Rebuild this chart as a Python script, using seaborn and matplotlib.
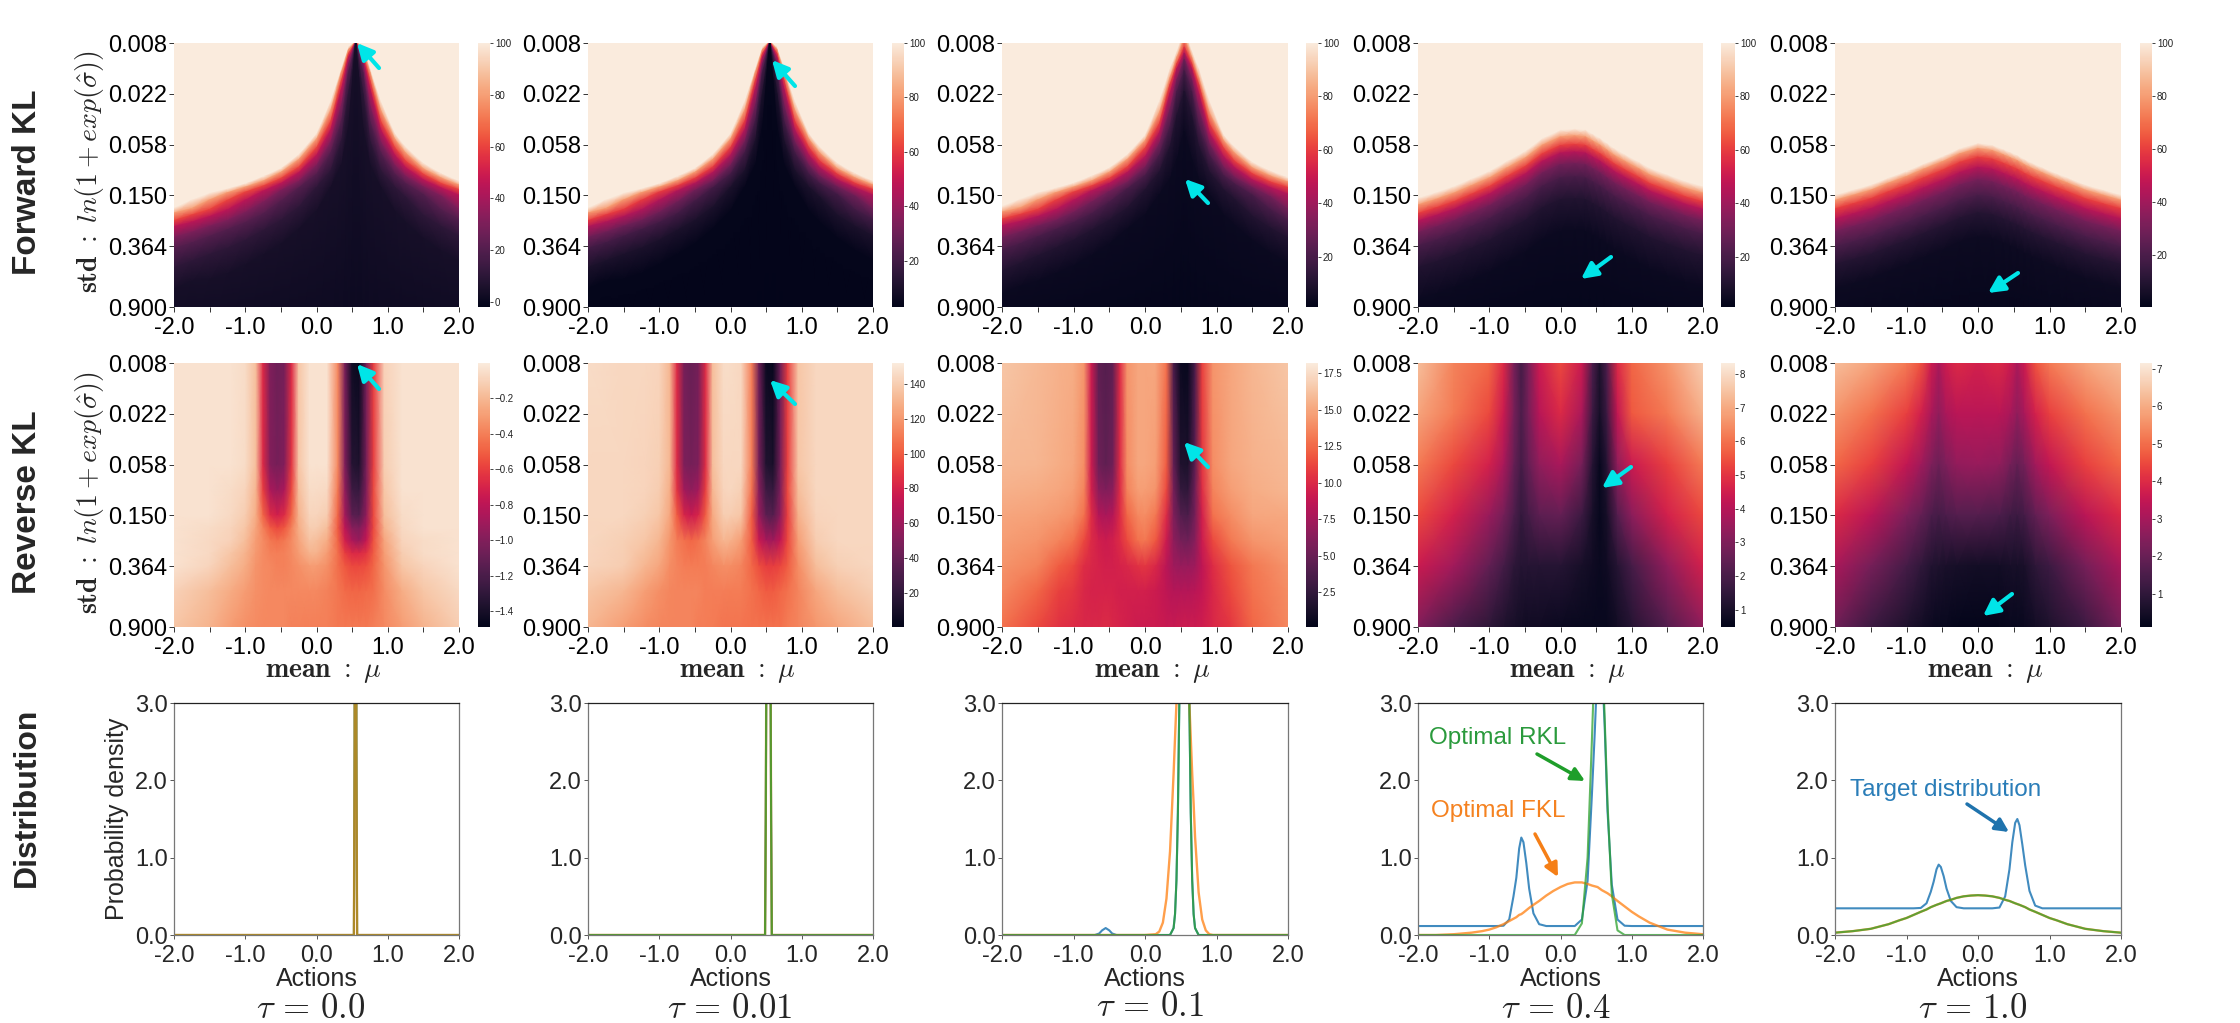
import numpy as np
import matplotlib
matplotlib.use('Agg')
import matplotlib.pyplot as plt
import seaborn as sns

sns.set_style('white')
plt.rcParams['font.family'] = ['Liberation Sans', 'DejaVu Sans']
plt.rcParams['mathtext.fontset'] = 'cm'

W, H = 2240, 1023

# tick labels
std_labels = ['0.008', '0.022', '0.058', '0.150', '0.364', '0.900']
std_pos = [0, 1, 2, 3, 4, 5.2]
taus = ['0.0', '0.01', '0.1', '0.4', '1.0']

# grids the heatmap values were read on (mean, and row position in tick units)
FKL_MU = [-2, -1.75, -1.5, -1.25, -1, -0.75, -0.5, -0.25, 0, 0.2, 0.35, 0.45, 0.55, 0.65, 0.75, 0.9, 1.1, 1.25, 1.5, 1.75, 2]
RKL_MU = [-2, -1.5, -1.2, -1, -0.85, -0.75, -0.65, -0.55, -0.45, -0.35, -0.25, -0.1, 0, 0.15, 0.3, 0.4, 0.5, 0.6, 0.7, 0.8, 0.95, 1.2, 1.5, 2]
RKL_ROWS_FINE = [0, 2, 2.5, 3, 3.25, 3.5, 3.75, 4, 4.5, 5.2]
RKL_ROWS_MID = [0, 2, 2.5, 3, 3.5, 4, 4.5, 5.2]
RKL_MU_COARSE = [-2, -1.5, -1, -0.8, -0.65, -0.55, -0.45, -0.3, 0, 0.3, 0.45, 0.55, 0.65, 0.8, 1, 1.5, 2]
RKL_ROWS_COARSE = [0, 1, 2, 3, 4, 5.2]

# Forward KL: for each mean in FKL_MU, the row where the value falls to each level
FKL_LEVELS = [100, 100, 80, 60, 45, 30, 20, 10, 4, 1]
fkl_tau0 = [
    [-1, -1, -1, -1, -1, -1, -1, -1, -1, -1, -1, -1, -1, -1, -1, -1, -1, -1, -1, -1, -1],
    [3.25, 3.09, 2.96, 2.87, 2.77, 2.63, 2.47, 2.2, 1.79, 1.15, .5, .08, -.03, .08, .5, 1.15, 1.79, 2.05, 2.37, 2.57, 2.72],
    [3.35, 3.26, 3.09, 2.95, 2.84, 2.72, 2.55, 2.3, 1.9, 1.33, .58, .13, -.03, .13, .58, 1.33, 1.9, 2.17, 2.48, 2.66, 2.8],
    [3.5, 3.39, 3.28, 3.1, 2.94, 2.82, 2.67, 2.45, 2.07, 1.55, .75, .21, -.02, .21, .75, 1.55, 2.07, 2.33, 2.59, 2.77, 2.89],
    [3.62, 3.53, 3.42, 3.29, 3.1, 2.92, 2.77, 2.56, 2.22, 1.72, .92, .29, -.02, .29, .92, 1.72, 2.22, 2.46, 2.7, 2.86, 3.0],
    [3.83, 3.73, 3.61, 3.5, 3.34, 3.14, 2.91, 2.73, 2.42, 1.96, 1.25, .42, -.01, .42, 1.25, 1.96, 2.42, 2.63, 2.84, 3.02, 3.28],
    [4.05, 3.94, 3.81, 3.68, 3.54, 3.37, 3.12, 2.86, 2.59, 2.17, 1.55, .58, -.01, .58, 1.55, 2.17, 2.59, 2.77, 2.99, 3.29, 3.48],
    [4.43, 4.3, 4.17, 4.05, 3.89, 3.7, 3.5, 3.24, 2.85, 2.52, 1.94, 1, -.01, 1, 1.94, 2.52, 2.85, 3.04, 3.4, 3.62, 3.81],
    [4.85, 4.7, 4.66, 4.55, 4.38, 4.18, 3.97, 3.68, 3.32, 2.85, 2.42, 1.68, 0, 1.68, 2.42, 2.85, 3.32, 3.55, 3.86, 4.1, 4.3],
    [6, 6, 6, 6, 6, 6, 6, 6, 6, 6, 6, 6, 6, 6, 6, 6, 6, 6, 6, 6, 6],
]
# no visible difference from tau = 0 apart from the colorbar floor
fkl_tau001 = fkl_tau0
fkl_tau01 = [
    [-1, -1, -1, -1, -1, -1, -1, -1, -1, -1, -1, -1, -1, -1, -1, -1, -1, -1, -1, -1, -1],
    [3.22, 3.08, 2.95, 2.86, 2.76, 2.62, 2.46, 2.2, 1.82, 1.15, .5, .15, -.3, .15, .5, 1.15, 1.82, 2.05, 2.35, 2.52, 2.65],
    [3.33, 3.25, 3.09, 2.95, 2.84, 2.72, 2.55, 2.3, 1.93, 1.38, .68, .27, -.1, .27, .68, 1.38, 1.93, 2.17, 2.46, 2.62, 2.74],
    [3.47, 3.38, 3.28, 3.1, 2.94, 2.82, 2.67, 2.45, 2.08, 1.6, .82, .4, .08, .4, .82, 1.6, 2.08, 2.33, 2.58, 2.74, 2.85],
    [3.6, 3.52, 3.42, 3.29, 3.1, 2.92, 2.77, 2.56, 2.25, 1.78, 1, .5, .2, .5, 1, 1.78, 2.25, 2.46, 2.7, 2.85, 2.98],
    [3.84, 3.73, 3.61, 3.5, 3.34, 3.14, 2.93, 2.75, 2.46, 2, 1.32, .72, .33, .72, 1.32, 2, 2.46, 2.65, 2.85, 3.03, 3.28],
    [4.08, 3.96, 3.82, 3.68, 3.54, 3.37, 3.14, 2.88, 2.62, 2.22, 1.65, .95, .55, .95, 1.65, 2.22, 2.62, 2.78, 3, 3.28, 3.5],
    [4.5, 4.35, 4.2, 4.05, 3.89, 3.7, 3.5, 3.26, 2.9, 2.55, 2.05, 1.42, .95, 1.42, 2.05, 2.55, 2.9, 3.08, 3.42, 3.65, 3.85],
    [4.95, 4.8, 4.7, 4.55, 4.4, 4.2, 3.97, 3.68, 3.4, 3, 2.7, 2.3, 1.75, 2.3, 2.7, 3, 3.4, 3.6, 3.9, 4.15, 4.35],
    [6, 6, 6, 6, 6, 6, 6, 6, 6, 6, 6, 6, 6, 6, 6, 6, 6, 6, 6, 6, 6],
]
fkl_tau04 = [
    [-1, -1, -1, -1, -1, -1, -1, -1, -1, -1, -1, -1, -1, -1, -1, -1, -1, -1, -1, -1, -1],
    [3.06, 2.95, 2.83, 2.68, 2.53, 2.33, 2.14, 1.88, 1.72, 1.7, 1.72, 1.8, 1.88, 1.98, 2.08, 2.2, 2.35, 2.47, 2.6, 2.73, 2.83],
    [3.19, 3.08, 2.96, 2.81, 2.66, 2.46, 2.27, 2.01, 1.85, 1.83, 1.85, 1.93, 2.01, 2.11, 2.21, 2.33, 2.48, 2.6, 2.73, 2.86, 2.96],
    [3.36, 3.25, 3.13, 2.98, 2.83, 2.63, 2.44, 2.18, 2.02, 2, 2.02, 2.1, 2.18, 2.28, 2.38, 2.5, 2.65, 2.77, 2.9, 3.03, 3.13],
    [3.51, 3.4, 3.28, 3.13, 2.98, 2.78, 2.59, 2.33, 2.17, 2.15, 2.17, 2.25, 2.33, 2.43, 2.53, 2.65, 2.8, 2.92, 3.05, 3.18, 3.28],
    [3.74, 3.63, 3.51, 3.36, 3.21, 3.01, 2.82, 2.56, 2.4, 2.38, 2.4, 2.48, 2.56, 2.66, 2.76, 2.88, 3.03, 3.15, 3.28, 3.41, 3.51],
    [4, 3.89, 3.77, 3.62, 3.47, 3.27, 3.08, 2.82, 2.66, 2.64, 2.66, 2.74, 2.82, 2.92, 3.02, 3.14, 3.29, 3.41, 3.54, 3.67, 3.77],
    [4.43, 4.32, 4.2, 4.05, 3.9, 3.7, 3.51, 3.25, 3.09, 3.07, 3.09, 3.17, 3.25, 3.35, 3.45, 3.57, 3.72, 3.84, 3.97, 4.1, 4.2],
    [5.06, 4.95, 4.83, 4.68, 4.53, 4.33, 4.14, 3.88, 3.72, 3.7, 3.72, 3.8, 3.88, 3.98, 4.08, 4.2, 4.35, 4.47, 4.6, 4.73, 4.83],
    [6, 6, 6, 6, 6, 6, 6, 6, 6, 6, 6, 6, 6, 6, 6, 6, 6, 6, 6, 6, 6],
]
fkl_tau1 = [
    [-1, -1, -1, -1, -1, -1, -1, -1, -1, -1, -1, -1, -1, -1, -1, -1, -1, -1, -1, -1, -1],
    [3, 2.9, 2.8, 2.66, 2.53, 2.38, 2.24, 2.08, 1.98, 2.02, 2.1, 2.16, 2.22, 2.3, 2.37, 2.46, 2.58, 2.66, 2.8, 2.9, 3],
    [3.1, 3, 2.9, 2.76, 2.63, 2.48, 2.34, 2.18, 2.08, 2.12, 2.2, 2.26, 2.32, 2.4, 2.47, 2.56, 2.68, 2.76, 2.9, 3, 3.1],
    [3.27, 3.17, 3.07, 2.93, 2.8, 2.65, 2.51, 2.35, 2.25, 2.29, 2.37, 2.43, 2.49, 2.57, 2.64, 2.73, 2.85, 2.93, 3.07, 3.17, 3.27],
    [3.47, 3.37, 3.27, 3.13, 3, 2.85, 2.71, 2.55, 2.45, 2.49, 2.57, 2.63, 2.69, 2.77, 2.84, 2.93, 3.05, 3.13, 3.27, 3.37, 3.47],
    [3.72, 3.62, 3.52, 3.38, 3.25, 3.1, 2.96, 2.8, 2.7, 2.74, 2.82, 2.88, 2.94, 3.02, 3.09, 3.18, 3.3, 3.38, 3.52, 3.62, 3.72],
    [4.02, 3.92, 3.82, 3.68, 3.55, 3.4, 3.26, 3.1, 3, 3.04, 3.12, 3.18, 3.24, 3.32, 3.39, 3.48, 3.6, 3.68, 3.82, 3.92, 4.02],
    [4.37, 4.27, 4.17, 4.03, 3.9, 3.75, 3.61, 3.45, 3.35, 3.39, 3.47, 3.53, 3.59, 3.67, 3.74, 3.83, 3.95, 4.03, 4.17, 4.27, 4.37],
    [4.85, 4.75, 4.65, 4.51, 4.38, 4.23, 4.09, 3.93, 3.83, 3.87, 3.95, 4.01, 4.07, 4.15, 4.22, 4.31, 4.43, 4.51, 4.65, 4.75, 4.85],
    [6, 6, 6, 6, 6, 6, 6, 6, 6, 6, 6, 6, 6, 6, 6, 6, 6, 6, 6, 6, 6],
]

# Reverse KL
rkl_tau0 = [
    [-.04, -.04, -.04, -.06, -.18, -.67, -1.01, -1.07, -1.04, -.67, -.15, -.04, -.04, -.04, -.37, -1.04, -1.43, -1.45, -1.04, -.6, -.10, -.04, -.04, -.04],
    [-.04, -.04, -.04, -.06, -.18, -.67, -1.0, -1.04, -1.0, -.63, -.15, -.04, -.04, -.04, -.37, -1.01, -1.34, -1.37, -1.04, -.6, -.12, -.04, -.04, -.04],
    [-.04, -.04, -.06, -.09, -.21, -.6, -.86, -.92, -.86, -.57, -.18, -.06, -.06, -.07, -.42, -.95, -1.25, -1.28, -1.01, -.57, -.15, -.04, -.04, -.04],
    [-.04, -.04, -.07, -.12, -.24, -.48, -.66, -.72, -.66, -.48, -.22, -.09, -.09, -.12, -.48, -.89, -1.13, -1.16, -.95, -.57, -.18, -.06, -.04, -.04],
    [-.04, -.06, -.09, -.15, -.27, -.39, -.51, -.57, -.52, -.39, -.24, -.12, -.12, -.18, -.51, -.8, -.98, -1.01, -.86, -.57, -.22, -.07, -.04, -.04],
    [-.04, -.07, -.1, -.18, -.3, -.36, -.42, -.45, -.42, -.36, -.27, -.16, -.18, -.24, -.48, -.72, -.86, -.92, -.77, -.54, -.27, -.09, -.06, -.04],
    [-.04, -.07, -.15, -.22, -.31, -.36, -.39, -.4, -.39, -.36, -.3, -.22, -.22, -.3, -.45, -.6, -.67, -.67, -.63, -.51, -.3, -.12, -.06, -.04],
    [-.04, -.09, -.18, -.24, -.33, -.36, -.37, -.39, -.39, -.37, -.34, -.3, -.3, -.34, -.45, -.52, -.57, -.57, -.55, -.48, -.33, -.15, -.09, -.04],
    [-.1, -.18, -.25, -.3, -.34, -.36, -.37, -.37, -.37, -.37, -.37, -.37, -.37, -.39, -.43, -.46, -.48, -.48, -.46, -.45, -.36, -.24, -.15, -.07],
    [-.15, -.22, -.3, -.34, -.36, -.37, -.37, -.37, -.37, -.39, -.39, -.4, -.4, -.4, -.42, -.42, -.42, -.42, -.42, -.4, -.37, -.3, -.22, -.12],
]
rkl_tau001 = [
    [146, 144, 144, 143, 131, 84, 46, 41, 46, 84, 134, 146, 146, 144, 110, 43, 5, 4, 43, 91, 137, 144, 144, 144],
    [144, 144, 143, 141, 131, 84, 49, 46, 49, 85, 134, 144, 144, 144, 110, 46, 14, 11, 46, 91, 137, 144, 144, 144],
    [144, 144, 143, 140, 128, 88, 61, 55, 61, 91, 131, 143, 144, 141, 107, 52, 25, 22, 49, 94, 134, 144, 144, 144],
    [144, 144, 141, 137, 125, 100, 82, 76, 82, 100, 126, 140, 140, 137, 100, 58, 37, 34, 54, 91, 129, 143, 144, 144],
    [144, 141, 137, 131, 119, 111, 107, 104, 107, 113, 122, 131, 129, 122, 100, 76, 64, 61, 73, 94, 122, 140, 144, 144],
    [143, 140, 131, 125, 116, 113, 111, 110, 110, 111, 114, 117, 116, 113, 104, 96, 91, 91, 94, 100, 116, 134, 141, 144],
    [137, 131, 122, 117, 114, 113, 113, 113, 113, 111, 111, 111, 110, 110, 107, 104, 100, 100, 104, 107, 113, 125, 134, 141],
    [131, 122, 116, 114, 113, 113, 113, 113, 111, 111, 110, 108, 108, 108, 107, 107, 107, 107, 107, 110, 113, 119, 125, 134],
]
rkl_tau01 = [
    [16.4, 15.8, 15.5, 15.3, 14.2, 9.2, 4.6, 4.1, 4.6, 10.1, 14.2, 15, 15, 15, 12.8, 3.7, .6, .5, 3.7, 11, 14.2, 15, 15.7, 16.4],
    [15.8, 15.7, 15.3, 15, 13.9, 9.2, 5.2, 4.6, 5.2, 10.1, 13.9, 15, 15, 14.6, 12, 4.8, 1.6, 1.4, 4.4, 10.6, 13.9, 15, 15.5, 15.8],
    [15.5, 15.3, 15, 14.6, 13.5, 9.5, 6.4, 5.9, 6.4, 10.1, 13.5, 14.6, 14.6, 14.2, 11.3, 5.5, 2.6, 2.3, 5.2, 10.2, 13.5, 14.6, 15.3, 15.7],
    [15, 14.8, 14.4, 14, 12.8, 10.2, 8.2, 7.7, 8.2, 10.2, 12.4, 13.7, 13.9, 13.1, 10.2, 5.9, 4.1, 3.7, 5.5, 9.5, 12.8, 13.9, 15, 15.1],
    [14.6, 14.2, 13.5, 12.8, 11.3, 10.1, 9.5, 9.2, 9.5, 10.2, 11.3, 12.8, 13.1, 11.9, 9.2, 6.6, 5.5, 5.2, 6.3, 9.2, 11.3, 13.1, 14.2, 14.8],
    [14.2, 13.5, 12, 11.3, 10.2, 9.9, 9.7, 9.5, 9.5, 9.7, 9.9, 10.4, 10.6, 9.9, 8.4, 7.3, 7, 7, 7.3, 8.6, 10.2, 11.7, 13.1, 14.2],
    [13.7, 12.4, 11, 10.6, 9.9, 9.7, 9.7, 9.7, 9.7, 9.5, 9.5, 9.5, 9.5, 9.2, 8.6, 8.2, 8.2, 8.2, 8.4, 8.8, 9.9, 11.3, 12.8, 13.9],
    [12.8, 11.3, 10.4, 10.1, 9.9, 9.9, 9.9, 10.1, 9.9, 9.7, 9.5, 9.2, 9.2, 9.2, 9, 9, 9.2, 9.2, 9.2, 9.3, 9.9, 10.6, 12.4, 13.7],
]
rkl_tau04 = [
    [7.38, 6.28, 5.81, 4.8, 2.84, 1.9, 2.84, 4.4, 5.34, 4.4, 2.06, 1.12, 2.06, 4.8, 5.81, 6.6, 7.69],
    [6.91, 6.13, 5.34, 4.4, 2.84, 2.06, 2.84, 4.01, 4.8, 3.78, 1.74, .96, 1.74, 4.25, 5.58, 6.13, 7.15],
    [6.13, 5.34, 4.56, 3.78, 2.53, 1.9, 2.53, 3.31, 3.78, 2.84, 1.27, .65, 1.27, 3.31, 4.4, 5.19, 6.13],
    [5.34, 4.56, 3.47, 2.84, 2.06, 1.59, 1.9, 2.37, 2.53, 1.74, .96, .65, .96, 2.21, 3.23, 4.56, 5.34],
    [4.4, 3.62, 2.45, 1.9, 1.43, 1.27, 1.27, 1.27, 1.27, .96, .8, .73, .8, 1.27, 1.9, 3.31, 4.56],
    [3.0, 2.06, 1.43, 1.12, .96, .88, .8, .8, .73, .65, .65, .65, .65, .88, 1.27, 2.21, 3.31],
]
rkl_tau1 = [
    [6.31, 5.88, 5.18, 4.62, 3.64, 3.07, 3.64, 3.99, 3.78, 3.99, 3.64, 3.07, 3.64, 4.62, 5.18, 5.88, 6.31],
    [5.6, 5.04, 4.34, 3.78, 3.07, 2.65, 3.07, 3.35, 3.35, 3.35, 3.07, 2.65, 3.07, 3.78, 4.34, 5.04, 5.6],
    [4.9, 4.34, 3.49, 2.93, 2.37, 2.09, 2.37, 2.72, 2.79, 2.65, 2.23, 1.95, 2.23, 2.93, 3.49, 4.34, 4.9],
    [3.99, 3.35, 2.37, 1.95, 1.53, 1.39, 1.53, 1.67, 1.67, 1.53, 1.31, 1.24, 1.39, 1.88, 2.37, 3.35, 3.99],
    [3.07, 2.23, 1.39, 1.03, .75, .68, .61, .54, .47, .47, .54, .54, .61, .96, 1.24, 2.23, 3.07],
    [2.09, 1.24, .68, .47, .33, .26, .26, .19, .16, .19, .26, .26, .33, .47, .68, 1.24, 2.23],
]

# Distribution panels, density curves
act_spike0 = [-2, 0, 0.525, 0.535, 0.54, 0.55, 0.555, 0.56, 0.57, 1, 2]
target_tau0 = [0, 0, 0, 2.5, 8, 20, 8, 2.5, 0, 0, 0]
act_spike001 = [-2, 0, 0.485, 0.495, 0.505, 0.53, 0.56, 0.57, 0.58, 1, 2]
target_tau001 = [0, 0, 0, 1.5, 4, 12, 4, 1.5, 0, 0, 0]

act_tau01 = [-2, -1, -0.7, -0.64, -0.6, -0.55, -0.5, -0.46, -0.4, 0, 0.15, 0.2, 0.25, 0.3, 0.35, 0.4, 0.42, 0.44, 0.46, 0.48,
             0.5, 0.52, 0.54, 0.56, 0.58, 0.6, 0.62, 0.64, 0.66, 0.68, 0.7, 0.75, 0.8, 0.85, 0.9, 0.95, 1, 2]
target_tau01 = [0, 0, 0, .02, .06, .09, .06, .02, 0, 0, 0, 0, 0, 0, 0, .09, .27, .71, 1.58, 3.0,
                4.85, 6.7, 7.84, 7.84, 6.7, 4.85, 3.0, 1.58, .71, .27, .09, 0, 0, 0, 0, 0, 0, 0]
fkl_curve_tau01 = [0, 0, 0, 0, 0, 0, 0, 0, 0, 0, .01, .045, .16, .47, 1.08, 2.09, 2.55, 3.0, 3.42, 3.8,
                   4.05, 4.2, 4.2, 4.05, 3.8, 3.42, 3.0, 2.55, 2.09, 1.7, 1.27, .55, .2, .06, .01, 0, 0, 0]
rkl_curve_tau01 = [0, 0, 0, 0, 0, 0, 0, 0, 0, 0, 0, 0, 0, 0, 0, .09, .27, .71, 1.58, 3.0,
                   4.85, 6.7, 7.84, 7.84, 6.7, 4.85, 3.0, 1.58, .71, .27, .09, 0, 0, 0, 0, 0, 0, 0]

act_wide = [-2, -1.75, -1.5, -1.25, -1.1, -1, -0.9, -0.8, -0.72, -0.66, -0.62, -0.58, -0.55, -0.52, -0.48, -0.44, -0.38, -0.3, -0.2, -0.1,
            0, 0.1, 0.2, 0.3, 0.38, 0.44, 0.48, 0.52, 0.55, 0.58, 0.62, 0.66, 0.72, 0.8, 0.9, 1, 1.1, 1.25, 1.5, 1.75, 2]
target_tau04 = [.116, .116, .116, .116, .116, .116, .116, .12, .2, .5, .74, 1.12, 1.26, 1.2, .93, .6, .28, .14, .116, .116,
                .116, .116, .116, .2, .7, 1.8, 2.6, 3.5, 3.75, 3.55, 2.7, 1.6, .65, .2, .12, .116, .116, .116, .116, .116, .116]
fkl_curve_tau04 = [0, 0, .01, .03, .05, .07, .10, .14, .18, .21, .23, .26, .27, .29, .32, .35, .39, .44, .51, .57,
                   .62, .66, .68, .68, .66, .64, .63, .62, .6, .58, .56, .54, .5, .44, .37, .30, .24, .16, .07, .03, .01]
rkl_curve_tau04 = [0, 0, 0, 0, 0, 0, 0, 0, 0, 0, 0, 0, 0, 0, 0, 0, 0, 0, 0, 0,
                   0, 0, 0, .15, 1.0, 2.5, 3.6, 4.35, 4.35, 3.9, 2.8, 1.7, .53, .06, 0, 0, 0, 0, 0, 0, 0]
target_tau1 = [.345, .345, .345, .345, .345, .345, .345, .35, .41, .56, .69, .85, .91, .88, .76, .6, .44, .36, .345, .345,
               .345, .345, .345, .355, .5, .85, 1.2, 1.45, 1.5, 1.42, 1.17, .9, .57, .38, .345, .345, .345, .345, .345, .345, .345]
gauss_tau1 = [.03, .05, .08, .14, .19, .22, .26, .30, .33, .36, .375, .39, .40, .41, .425, .44, .455, .48, .50, .51,
              .515, .51, .50, .48, .455, .44, .425, .41, .40, .39, .375, .36, .33, .30, .26, .22, .19, .14, .08, .05, .03]

# pixel layout of the columns
col_x = [(174, 459), (588, 873), (1002, 1288), (1418, 1703), (1835, 2121)]
cbar_x = [(478, 490), (892, 904), (1306, 1318), (1721, 1735), (2140, 2152)]
row_y = [(43, 307), (363, 627), (703, 935)]
tau_pos = [(311, 1009), (730, 1009), (1150, 1007), (1556, 1009), (1973, 1009)]

# panel settings: values, grid, colour range, colorbar ticks
top_panels = [
    (fkl_tau0, -2, 100, [0, 20, 40, 60, 80, 100]),
    (fkl_tau001, 3, 100, [20, 40, 60, 80, 100]),
    (fkl_tau01, 1.3, 100, [20, 40, 60, 80, 100]),
    (fkl_tau04, 1.3, 100, [20, 40, 60, 80, 100]),
    (fkl_tau1, 0.6, 100, [20, 40, 60, 80, 100]),
]
mid_panels = [
    (rkl_tau0, RKL_MU, RKL_ROWS_FINE, -1.49, 0, [-1.4, -1.2, -1.0, -0.8, -0.6, -0.4, -0.2]),
    (rkl_tau001, RKL_MU, RKL_ROWS_MID, 0.5, 152, [20, 40, 60, 80, 100, 120, 140]),
    (rkl_tau01, RKL_MU, RKL_ROWS_MID, 0.1, 18.2, [2.5, 5.0, 7.5, 10.0, 12.5, 15.0, 17.5]),
    (rkl_tau04, RKL_MU_COARSE, RKL_ROWS_COARSE, 0.49, 8.32, [1, 2, 3, 4, 5, 6, 7, 8]),
    (rkl_tau1, RKL_MU_COARSE, RKL_ROWS_COARSE, 0.12, 7.15, [1, 2, 3, 4, 5, 6, 7]),
]
# tail and tip of the cyan arrows, figure pixels from the top left
top_arrows = [((379, 68), (357, 43)), ((795, 86), (772, 60)), ((1208, 203), (1185, 179)),
              ((1611, 257), (1581, 279)), ((2018, 273), (1988, 293))]
mid_arrows = [((379, 389), (357, 364)), ((795, 404), (770, 380)), ((1208, 467), (1184, 442)),
              ((1631, 467), (1602, 488)), ((2012, 594), (1983, 616))]

BLUE, ORANGE, GREEN = '#1f77b4', '#ff7f0e', '#2ca02c'
CYAN = '#00e5e8'
TICK_SIZE = 17


def pix_axes(fig, xr, yr):
    return fig.add_axes([xr[0] / W, 1 - yr[1] / H, (xr[1] - xr[0]) / W, (yr[1] - yr[0]) / H])


def pix(p):
    return (p[0], H - p[1])


def arrow(ax, tail, tip, color, lw=3, scale=24):
    ax.annotate('', xy=pix(tip), xytext=pix(tail), xycoords='figure pixels', textcoords='figure pixels',
                annotation_clip=False, zorder=10,
                arrowprops=dict(arrowstyle='-|>', color=color, lw=lw, mutation_scale=scale, shrinkA=0, shrinkB=0))


def heat_panel(fig, xr, yr, cxr, values, grid_x, grid_y, vmin, vmax, cticks):
    ax = pix_axes(fig, xr, yr)
    cax = pix_axes(fig, cxr, yr)
    sns.heatmap(values, ax=ax, cbar_ax=cax, cmap='rocket', vmin=vmin, vmax=vmax,
                xticklabels=False, yticklabels=False, shading='gouraud')
    # put the smooth mesh on the grid the values were read on
    mesh = ax.collections[0]
    mesh._coordinates = np.dstack([grid_x, grid_y])
    ax.set_xlim(-2, 2)
    ax.set_ylim(5.2, 0)
    ax.set_xticks(np.arange(-2, 2.01, 0.5))
    ax.set_xticklabels(['-2.0', '', '-1.0', '', '0.0', '', '1.0', '', '2.0'], fontsize=TICK_SIZE)
    ax.set_yticks(std_pos)
    ax.set_yticklabels(std_labels, fontsize=TICK_SIZE, rotation=0)
    ax.tick_params(axis='x', length=3.5, width=0.7, pad=4, color='#333333', bottom=True, labelcolor='black')
    ax.tick_params(axis='y', length=3.5, width=0.7, pad=1.5, color='#333333', left=True, labelcolor='black')
    cbar = mesh.colorbar
    cbar.set_ticks(cticks)
    cbar.ax.tick_params(labelsize=7, length=2, width=0.6, pad=1.5, labelcolor='#222222', right=True)
    return ax


def dist_panel(fig, xr, yr, x, target, fkl, rkl, fkl_on_top=False):
    ax = pix_axes(fig, xr, yr)
    sns.lineplot(x=x, y=target, ax=ax, color=BLUE, linewidth=1.5, alpha=0.85, errorbar=None)
    if fkl_on_top:
        sns.lineplot(x=x, y=rkl, ax=ax, color=GREEN, linewidth=1.5, alpha=0.75, errorbar=None)
        sns.lineplot(x=x, y=fkl, ax=ax, color=ORANGE, linewidth=1.7, alpha=0.6, errorbar=None)
    else:
        sns.lineplot(x=x, y=fkl, ax=ax, color=ORANGE, linewidth=1.7, alpha=0.75, errorbar=None)
        sns.lineplot(x=x, y=rkl, ax=ax, color=GREEN, linewidth=1.5, alpha=0.75, errorbar=None)
    ax.set_xlim(-2, 2)
    ax.set_ylim(0, 3)
    ax.set_xticks([-2, -1, 0, 1, 2])
    ax.set_xticklabels(['-2.0', '-1.0', '0.0', '1.0', '2.0'], fontsize=TICK_SIZE)
    ax.set_yticks([0, 1, 2, 3])
    ax.set_yticklabels(['0.0', '1.0', '2.0', '3.0'], fontsize=TICK_SIZE)
    ax.tick_params(axis='x', length=3, width=0.7, pad=4, color='#555555', bottom=True)
    ax.tick_params(axis='y', length=3, width=0.7, pad=1.5, color='#555555', left=True)
    for name, spine in ax.spines.items():
        spine.set_visible(True)
        spine.set_linewidth(0.9)
        spine.set_color('#222222' if name == 'top' else '#777777')
    ax.set_xlabel('Actions', fontsize=18, labelpad=0)
    return ax


fig = plt.figure(figsize=(W / 100, H / 100), dpi=100)

fkl_x, _ = np.meshgrid(FKL_MU, FKL_LEVELS)
fkl_values = np.tile(np.array(FKL_LEVELS, dtype=float)[:, None], (1, len(FKL_MU)))
for i in range(5):
    rows, vmin, vmax, cticks = top_panels[i]
    ax = heat_panel(fig, col_x[i], row_y[0], cbar_x[i], fkl_values, fkl_x, np.array(rows, dtype=float), vmin, vmax, cticks)
    arrow(ax, top_arrows[i][0], top_arrows[i][1], CYAN)

for i in range(5):
    values, mu, rows, vmin, vmax, cticks = mid_panels[i]
    grid_x, grid_y = np.meshgrid(mu, rows)
    ax = heat_panel(fig, col_x[i], row_y[1], cbar_x[i], np.array(values, dtype=float), grid_x, grid_y, vmin, vmax, cticks)
    arrow(ax, mid_arrows[i][0], mid_arrows[i][1], CYAN)
    fig.text((col_x[i][0] + col_x[i][1]) / 2 / W + 7 / W, 1 - 672 / H, r'$\mathbf{mean}\ :\ \mu$', fontsize=20,
             ha='center', va='center')

dist_axes = [
    dist_panel(fig, col_x[0], row_y[2], act_spike0, target_tau0, target_tau0, target_tau0, fkl_on_top=True),
    dist_panel(fig, col_x[1], row_y[2], act_spike001, target_tau001, target_tau001, target_tau001),
    dist_panel(fig, col_x[2], row_y[2], act_tau01, target_tau01, fkl_curve_tau01, rkl_curve_tau01),
    dist_panel(fig, col_x[3], row_y[2], act_wide, target_tau04, fkl_curve_tau04, rkl_curve_tau04),
    dist_panel(fig, col_x[4], row_y[2], act_wide, target_tau1, gauss_tau1, gauss_tau1),
]
dist_axes[0].set_ylabel('Probability density', fontsize=18, labelpad=4)

for i in range(5):
    fig.text(tau_pos[i][0] / W, 1 - tau_pos[i][1] / H, r'$\tau\,=\,%s$' % taus[i], fontsize=25, ha='center', va='center')

# labels inside the distribution panels
fig.text(1429 / W, 1 - 738 / H, 'Optimal RKL', color='#2a9a3c', fontsize=17.5, ha='left', va='center')
fig.text(1431 / W, 1 - 811 / H, 'Optimal FKL', color='#f58220', fontsize=17.5, ha='left', va='center')
fig.text(1850 / W, 1 - 790 / H, 'Target distribution', color='#2a7db8', fontsize=17.5, ha='left', va='center')
arrow(dist_axes[3], (1537, 754), (1585, 781), '#1f9e2a', lw=2.5, scale=20)
arrow(dist_axes[3], (1535, 834), (1558, 877), '#f57f17', lw=2.5, scale=20)
arrow(dist_axes[4], (1967, 804), (2009, 832), '#1f73ad', lw=2.5, scale=20)

# row titles and the rotated std labels
fig.text(28 / W, 1 - 182 / H, 'Forward KL', fontsize=24, fontweight='bold', rotation=90, ha='center', va='center')
fig.text(28 / W, 1 - 502 / H, 'Reverse KL', fontsize=24, fontweight='bold', rotation=90, ha='center', va='center')
fig.text(27 / W, 1 - 797 / H, 'Distribution', fontsize=23, fontweight='bold', rotation=90, ha='center', va='center')
std_label = r'$\mathbf{std}\ :\ ln(1+exp(\hat{\sigma}))$'
fig.text(89 / W, 1 - 172 / H, std_label, fontsize=20, rotation=90, ha='center', va='center')
fig.text(89 / W, 1 - 493 / H, std_label, fontsize=20, rotation=90, ha='center', va='center')

fig.savefig('out.png', dpi=100)
